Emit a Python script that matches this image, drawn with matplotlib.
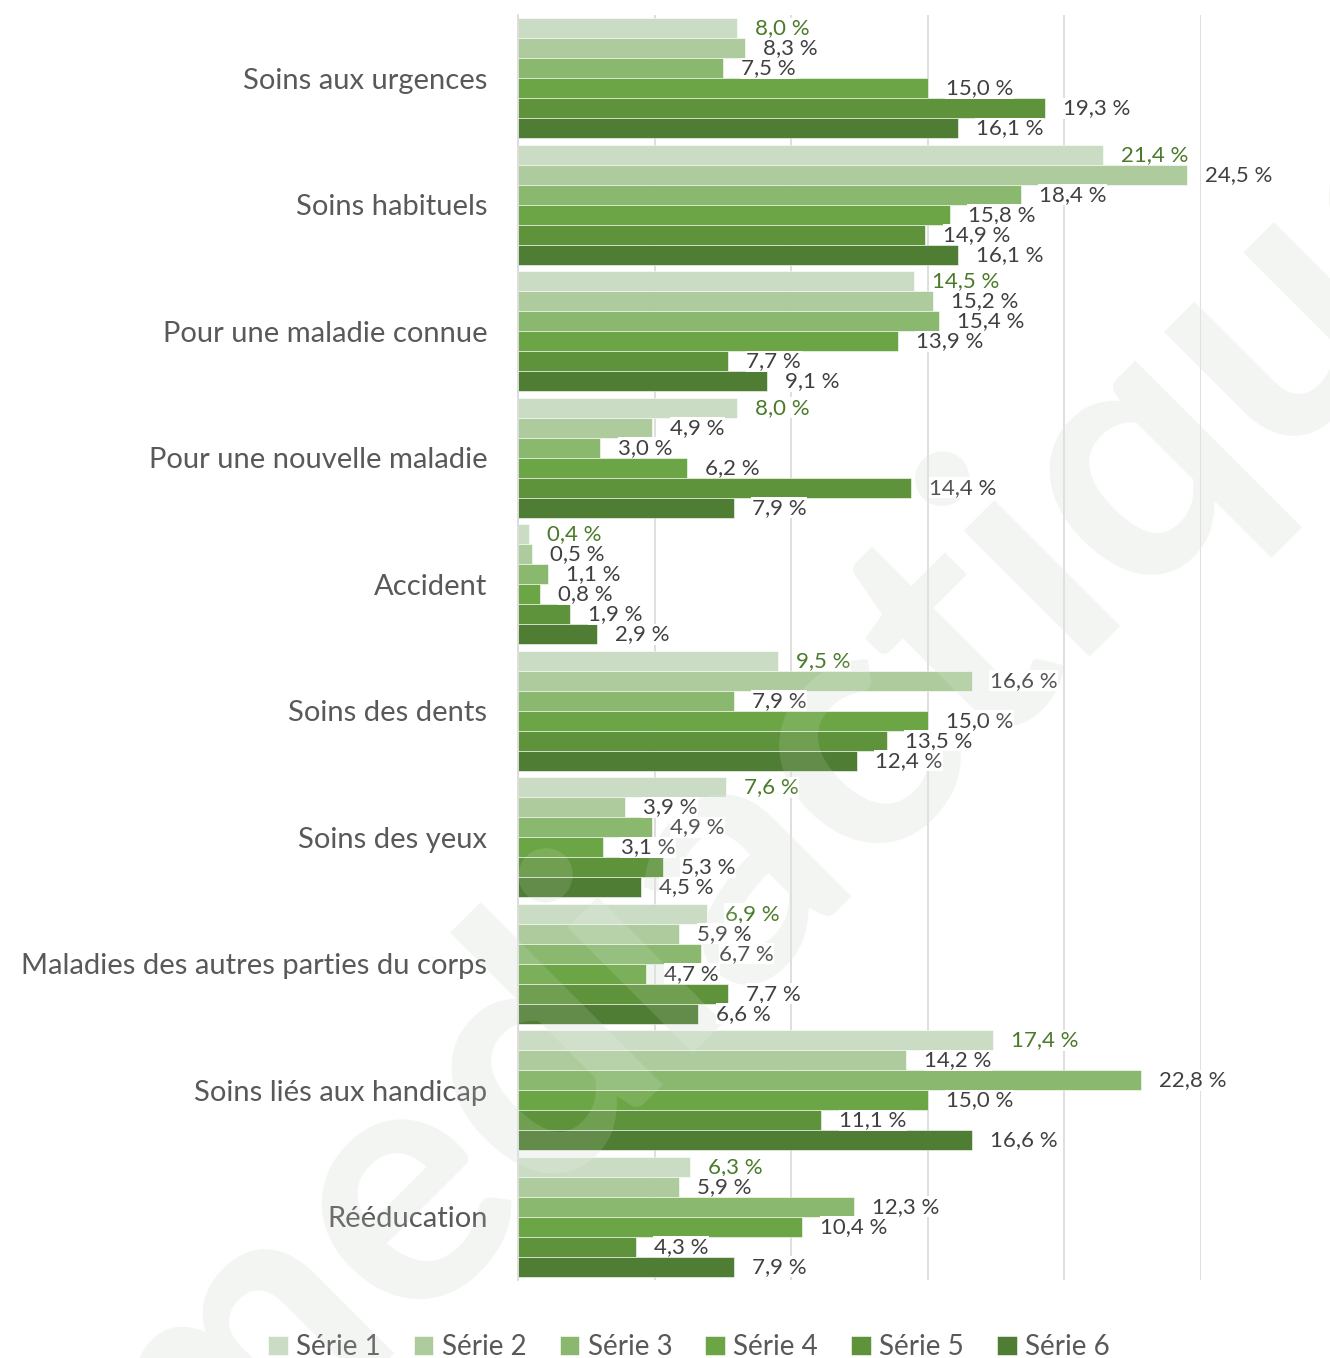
import numpy as np
import matplotlib.pyplot as plt

categories = [
    "Soins aux urgences",
    "Soins habituels",
    "Pour une maladie connue",
    "Pour une nouvelle maladie",
    "Accident",
    "Soins des dents",
    "Soins des yeux",
    "Maladies des autres parties du corps",
    "Soins liés aux handicap",
    "Rééducation",
]
series_names = ["Série 1", "Série 2", "Série 3", "Série 4", "Série 5", "Série 6"]

serie1 = [8.0, 21.4, 14.5, 8.0, 0.4, 9.5, 7.6, 6.9, 17.4, 6.3]
serie2 = [8.3, 24.5, 15.2, 4.9, 0.5, 16.6, 3.9, 5.9, 14.2, 5.9]
serie3 = [7.5, 18.4, 15.4, 3.0, 1.1, 7.9, 4.9, 6.7, 22.8, 12.3]
serie4 = [15.0, 15.8, 13.9, 6.2, 0.8, 15.0, 3.1, 4.7, 15.0, 10.4]
serie5 = [19.3, 14.9, 7.7, 14.4, 1.9, 13.5, 5.3, 7.7, 11.1, 4.3]
serie6 = [16.1, 16.1, 9.1, 7.9, 2.9, 12.4, 4.5, 6.6, 16.6, 7.9]
all_series = [serie1, serie2, serie3, serie4, serie5, serie6]

COLORS = ['#cadcc3', '#aecb9e', '#89b86e', '#6ba545', '#5e933b', '#4f7d33']
TEXT = '#595959'
FONT = 'Lato'

plt.rcParams['font.family'] = [FONT, 'DejaVu Sans']

fig = plt.figure(figsize=(13.3, 13.58), dpi=100)

# filigrane (fond)
wm = dict(fontsize=250, fontweight='bold', rotation=45, ha='center', va='center')
fig.text(0.60, 0.42, "mediactique", color='#f2f4f1', zorder=-5, **wm)

ax = fig.add_axes([0.3895, 0.0574, 0.903 - 0.3895, 0.989 - 0.0574])
ax.patch.set_alpha(0)

h = 0.158
y = np.arange(len(categories))
for j, (vals, color) in enumerate(zip(all_series, COLORS)):
    pos = y + (j - 2.5) * h
    ax.barh(pos, vals, height=h, color=color, edgecolor='white',
            linewidth=0.4, label=series_names[j], zorder=2)
    lab_col = '#4a7a2a' if j == 0 else '#404040'
    for p, v in zip(pos, vals):
        ax.annotate(f"{v:.1f} %".replace('.', ','), (v, p),
                    xytext=(13, 0), textcoords='offset points',
                    ha='left', va='center', fontsize=16, color=lab_col,
                    bbox=dict(facecolor='white', edgecolor='none', pad=0.3),
                    zorder=3)

ax.set_xlim(0, 25)
ax.set_ylim(len(categories) - 0.5, -0.5)
ax.set_xticks([0, 5, 10, 15, 20, 25])
ax.xaxis.grid(True, color='#d9d9d9', linewidth=1.2, zorder=0)
ax.set_axisbelow(True)
ax.tick_params(axis='x', length=0, labelbottom=False)
ax.set_yticks(y)
ax.set_yticklabels(categories, fontsize=21, color=TEXT)
ax.tick_params(axis='y', length=0, pad=22)
for s in ['top', 'right', 'bottom']:
    ax.spines[s].set_visible(False)
ax.spines['left'].set_color('#d9d9d9')
ax.spines['left'].set_linewidth(1.2)

leg = fig.legend(loc='center', bbox_to_anchor=(0.518, 0.008), ncol=6,
                 frameon=False, fontsize=20, handlelength=0.7, handleheight=0.7,
                 handletextpad=0.3, columnspacing=1.2)
for t in leg.get_texts():
    t.set_color(TEXT)

# filigrane (voile léger par-dessus les barres)
fig.text(0.60, 0.42, "mediactique", color='white', alpha=0.12, zorder=10, **wm)

fig.savefig('out.png', dpi=100)
